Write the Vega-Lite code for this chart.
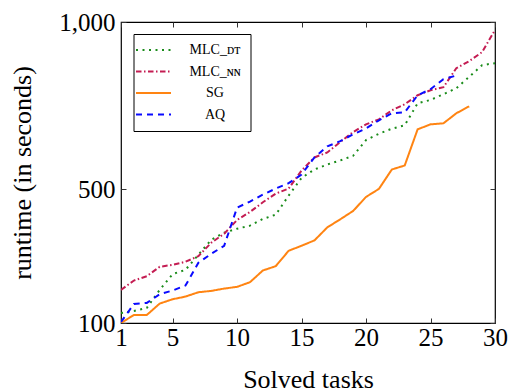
{
  "$schema": "https://vega.github.io/schema/vega-lite/v6.json",
  "width": 374,
  "height": 301,
  "autosize": "none",
  "padding": {"left": 121, "top": 22, "right": 13, "bottom": 69},
  "config": {
    "view": {"stroke": "black", "strokeWidth": 1.2},
    "font": "'Liberation Serif', 'DejaVu Serif', serif",
    "legend": {
      "orient": "none",
      "legendX": 12.5,
      "legendY": 12,
      "title": null,
      "symbolType": "M-2.7,0H4.3",
      "symbolSize": 100,
      "symbolStrokeWidth": 2,
      "symbolFillColor": "transparent",
      "labelFont": "'Liberation Serif', 'DejaVu Serif', serif",
      "labelFontSize": 14,
      "labelColor": "black",
      "labelAlign": "center",
      "labelOffset": 58.5,
      "padding": 9,
      "rowPadding": 7.5,
      "fillColor": "white",
      "strokeColor": "black",
      "cornerRadius": 0
    }
  },
  "data": {
    "values": [
      {"s": "MLC_DT", "x": 1, "y": 130}, {"s": "MLC_DT", "x": 2, "y": 136}, {"s": "MLC_DT", "x": 3, "y": 145}, {"s": "MLC_DT", "x": 4, "y": 199}, {"s": "MLC_DT", "x": 5, "y": 246},
      {"s": "MLC_DT", "x": 6, "y": 259}, {"s": "MLC_DT", "x": 7, "y": 304}, {"s": "MLC_DT", "x": 8, "y": 349}, {"s": "MLC_DT", "x": 9, "y": 370}, {"s": "MLC_DT", "x": 10, "y": 382},
      {"s": "MLC_DT", "x": 11, "y": 391}, {"s": "MLC_DT", "x": 12, "y": 411}, {"s": "MLC_DT", "x": 13, "y": 424}, {"s": "MLC_DT", "x": 14, "y": 481}, {"s": "MLC_DT", "x": 15, "y": 534},
      {"s": "MLC_DT", "x": 16, "y": 559}, {"s": "MLC_DT", "x": 17, "y": 574}, {"s": "MLC_DT", "x": 18, "y": 586}, {"s": "MLC_DT", "x": 19, "y": 600}, {"s": "MLC_DT", "x": 20, "y": 647},
      {"s": "MLC_DT", "x": 21, "y": 666}, {"s": "MLC_DT", "x": 22, "y": 681}, {"s": "MLC_DT", "x": 23, "y": 691}, {"s": "MLC_DT", "x": 24, "y": 757}, {"s": "MLC_DT", "x": 25, "y": 767},
      {"s": "MLC_DT", "x": 26, "y": 784}, {"s": "MLC_DT", "x": 27, "y": 802}, {"s": "MLC_DT", "x": 28, "y": 836}, {"s": "MLC_DT", "x": 29, "y": 871}, {"s": "MLC_DT", "x": 30, "y": 877},
      {"s": "MLC_NN", "x": 1, "y": 199}, {"s": "MLC_NN", "x": 2, "y": 227}, {"s": "MLC_NN", "x": 3, "y": 240}, {"s": "MLC_NN", "x": 4, "y": 268}, {"s": "MLC_NN", "x": 5, "y": 274},
      {"s": "MLC_NN", "x": 6, "y": 283}, {"s": "MLC_NN", "x": 7, "y": 300}, {"s": "MLC_NN", "x": 8, "y": 340}, {"s": "MLC_NN", "x": 9, "y": 367}, {"s": "MLC_NN", "x": 10, "y": 408},
      {"s": "MLC_NN", "x": 11, "y": 432}, {"s": "MLC_NN", "x": 12, "y": 461}, {"s": "MLC_NN", "x": 13, "y": 487}, {"s": "MLC_NN", "x": 14, "y": 502}, {"s": "MLC_NN", "x": 15, "y": 556},
      {"s": "MLC_NN", "x": 16, "y": 595}, {"s": "MLC_NN", "x": 17, "y": 610}, {"s": "MLC_NN", "x": 18, "y": 641}, {"s": "MLC_NN", "x": 19, "y": 671}, {"s": "MLC_NN", "x": 20, "y": 694},
      {"s": "MLC_NN", "x": 21, "y": 709}, {"s": "MLC_NN", "x": 22, "y": 736}, {"s": "MLC_NN", "x": 23, "y": 754}, {"s": "MLC_NN", "x": 24, "y": 781}, {"s": "MLC_NN", "x": 25, "y": 796},
      {"s": "MLC_NN", "x": 26, "y": 805}, {"s": "MLC_NN", "x": 27, "y": 862}, {"s": "MLC_NN", "x": 28, "y": 883}, {"s": "MLC_NN", "x": 29, "y": 910}, {"s": "MLC_NN", "x": 30, "y": 976},
      {"s": "SG", "x": 1, "y": 100}, {"s": "SG", "x": 2, "y": 124}, {"s": "SG", "x": 3, "y": 124}, {"s": "SG", "x": 4, "y": 158}, {"s": "SG", "x": 5, "y": 171},
      {"s": "SG", "x": 6, "y": 179}, {"s": "SG", "x": 7, "y": 192}, {"s": "SG", "x": 8, "y": 196}, {"s": "SG", "x": 9, "y": 203}, {"s": "SG", "x": 10, "y": 208},
      {"s": "SG", "x": 11, "y": 222}, {"s": "SG", "x": 12, "y": 257}, {"s": "SG", "x": 13, "y": 270}, {"s": "SG", "x": 14, "y": 316}, {"s": "SG", "x": 15, "y": 331},
      {"s": "SG", "x": 16, "y": 347}, {"s": "SG", "x": 17, "y": 386}, {"s": "SG", "x": 18, "y": 410}, {"s": "SG", "x": 19, "y": 435}, {"s": "SG", "x": 20, "y": 477},
      {"s": "SG", "x": 21, "y": 501}, {"s": "SG", "x": 22, "y": 559}, {"s": "SG", "x": 23, "y": 571}, {"s": "SG", "x": 24, "y": 679}, {"s": "SG", "x": 25, "y": 694},
      {"s": "SG", "x": 26, "y": 697}, {"s": "SG", "x": 27, "y": 727}, {"s": "SG", "x": 28, "y": 748},
      {"s": "AQ", "x": 1, "y": 103}, {"s": "AQ", "x": 2, "y": 157}, {"s": "AQ", "x": 3, "y": 160}, {"s": "AQ", "x": 4, "y": 186}, {"s": "AQ", "x": 5, "y": 197},
      {"s": "AQ", "x": 6, "y": 212}, {"s": "AQ", "x": 7, "y": 280}, {"s": "AQ", "x": 8, "y": 307}, {"s": "AQ", "x": 9, "y": 331}, {"s": "AQ", "x": 10, "y": 445},
      {"s": "AQ", "x": 11, "y": 463}, {"s": "AQ", "x": 12, "y": 484}, {"s": "AQ", "x": 13, "y": 502}, {"s": "AQ", "x": 14, "y": 518}, {"s": "AQ", "x": 15, "y": 544},
      {"s": "AQ", "x": 16, "y": 595}, {"s": "AQ", "x": 17, "y": 628}, {"s": "AQ", "x": 18, "y": 644}, {"s": "AQ", "x": 19, "y": 664}, {"s": "AQ", "x": 20, "y": 682},
      {"s": "AQ", "x": 21, "y": 706}, {"s": "AQ", "x": 22, "y": 727}, {"s": "AQ", "x": 23, "y": 730}, {"s": "AQ", "x": 24, "y": 781}, {"s": "AQ", "x": 25, "y": 799},
      {"s": "AQ", "x": 26, "y": 829}, {"s": "AQ", "x": 27, "y": 840}
    ]
  },
  "layer": [
    {
      "mark": {"type": "line", "strokeWidth": 2, "clip": true},
      "encoding": {
        "x": {
          "field": "x", "type": "quantitative",
          "scale": {"domain": [1, 30], "nice": false, "zero": false},
          "axis": {
            "orient": "bottom", "values": [1, 5, 10, 15, 20, 25, 30], "title": "Solved tasks",
            "grid": false, "domain": false, "tickSize": -5, "tickColor": "#333", "tickWidth": 1,
            "labelFlush": false, "labelOverlap": false,
            "labelFontSize": 25, "labelColor": "black", "labelPadding": 7, "labelFont": "'Liberation Serif', 'DejaVu Serif', serif",
            "titleFont": "'Liberation Serif', 'DejaVu Serif', serif", "titleFontSize": 26, "titleFontWeight": "normal", "titleColor": "black", "titlePadding": 16
          }
        },
        "y": {
          "field": "y", "type": "quantitative",
          "scale": {"domain": [100, 1000], "nice": false, "zero": false},
          "axis": {
            "orient": "left", "values": [100, 500, 1000], "format": ",d", "title": "runtime (in seconds)",
            "grid": false, "domain": false, "tickSize": -5, "tickColor": "#333", "tickWidth": 1,
            "labelFlush": false, "labelOverlap": false,
            "labelFontSize": 25, "labelColor": "black", "labelPadding": 11, "labelFont": "'Liberation Serif', 'DejaVu Serif', serif",
            "titleFont": "'Liberation Serif', 'DejaVu Serif', serif", "titleFontSize": 26, "titleFontWeight": "normal", "titleColor": "black", "titlePadding": 23
          }
        },
        "color": {
          "field": "s", "type": "nominal",
          "scale": {"domain": ["MLC_DT", "MLC_NN", "SG", "AQ"], "range": ["#1a8c1a", "#c41c52", "#ff8412", "#0a0aff"]},
          "legend": {"title": null, "labelExpr": "datum.label == 'MLC_DT' ? 'MLC_ᴅᴛ' : datum.label == 'MLC_NN' ? 'MLC_ɴɴ' : datum.label"}
        },
        "strokeDash": {
          "field": "s", "type": "nominal",
          "scale": {"domain": ["MLC_DT", "MLC_NN", "SG", "AQ"], "range": [[2, 4.5], [5.5, 2.5, 1.5, 2.5], [1, 0], [6, 5]]},
          "legend": {"title": null, "labelExpr": "datum.label == 'MLC_DT' ? 'MLC_ᴅᴛ' : datum.label == 'MLC_NN' ? 'MLC_ɴɴ' : datum.label"}
        }
      }
    },
    {
      "mark": {"type": "point", "opacity": 0},
      "encoding": {
        "x": {
          "field": "x", "type": "quantitative",
          "axis": {"orient": "top", "values": [1, 5, 10, 15, 20, 25, 30], "title": null, "labels": false, "grid": false, "domain": false, "tickSize": -5, "tickColor": "#333"}
        },
        "y": {
          "field": "y", "type": "quantitative",
          "axis": {"orient": "right", "values": [100, 500, 1000], "title": null, "labels": false, "grid": false, "domain": false, "tickSize": -5, "tickColor": "#333"}
        }
      }
    }
  ],
  "resolve": {"axis": {"x": "independent", "y": "independent"}}
}
